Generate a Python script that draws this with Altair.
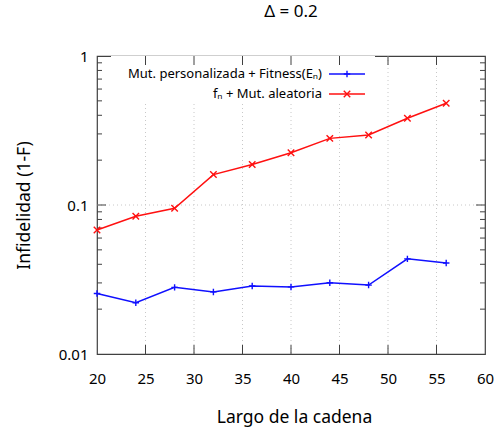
import altair as alt
import pandas as pd

# Chain length and infidelity (1-F) for the two strategies
largo = [20, 24, 28, 32, 36, 40, 44, 48, 52, 56]
infid_personalizada = [0.0255, 0.0221, 0.0280, 0.0261, 0.0286, 0.0282, 0.0301, 0.0290, 0.0435, 0.0408]
infid_aleatoria = [0.068, 0.084, 0.095, 0.160, 0.187, 0.224, 0.280, 0.295, 0.382, 0.482]

series_labels = ["Mut. personalizada + Fitness(Eₙ)", "fₙ + Mut. aleatoria"]
series_colors = ["#1010ff", "#ff1010"]

x_ticks = [20, 25, 30, 35, 40, 45, 50, 55, 60]
x_inner_ticks = [25, 30, 35, 40, 45, 50, 55]
y_major = [0.01, 0.1, 1]
y_minor = [0.02, 0.03, 0.04, 0.05, 0.06, 0.07, 0.08, 0.09,
           0.2, 0.3, 0.4, 0.5, 0.6, 0.7, 0.8, 0.9]

W, H = 388, 298
FONT = "Noto Sans"
FRAME = "#404040"

xs = alt.Scale(domain=[20, 60], nice=False, zero=False)
ys = alt.Scale(type="log", domain=[0.01, 1], nice=False)

# one axis definition per channel, shared by every layer so they merge
x_axis = alt.Axis(values=x_ticks, title="Largo de la cadena", grid=False,
                  ticks=False, domain=False, labelPadding=17, labelFlush=False,
                  labelFontSize=15, labelFont=FONT, labelColor="#000",
                  titleFont=FONT, titleFontSize=17.5, titleFontWeight="normal",
                  titleColor="#000", titleX=197, titleY=68,
                  titleBaseline="alphabetic")
y_axis = alt.Axis(values=y_major, format="~g", title="Infidelidad (1-F)",
                  grid=False, ticks=False, domain=False, labelPadding=9,
                  labelFlush=False,
                  labelFontSize=15, labelFont=FONT, labelColor="#000",
                  titleFont=FONT, titleFontSize=17.5, titleFontWeight="normal",
                  titleColor="#000", titleX=-73, titleY=149,
                  titleBaseline="middle", titleAlign="center")

def X(field):
    return alt.X(field, scale=xs, axis=x_axis)

def Y(field):
    return alt.Y(field, scale=ys, axis=y_axis)

# marker paths: plus for the first series, diagonal cross for the second
PLUS = "M-1,0L1,0M0,-1L0,1"
XMARK = "M-1,-1L1,1M-1,1L1,-1"
shapes = [PLUS, XMARK]

df = pd.DataFrame({
    "largo": largo * 2,
    "infid": infid_personalizada + infid_aleatoria,
    "serie": [series_labels[0]] * len(largo) + [series_labels[1]] * len(largo),
})

grid_x = alt.Chart(pd.DataFrame({"x": x_inner_ticks})).mark_rule(
    color="#c8c8c8", strokeDash=[1, 3], strokeWidth=1
).encode(x=X("x:Q"), y=alt.value(0), y2=alt.value(H))

grid_y = alt.Chart(pd.DataFrame({"y": [0.1]})).mark_rule(
    color="#c8c8c8", strokeDash=[1, 3], strokeWidth=1
).encode(y=Y("y:Q"), x=alt.value(0), x2=alt.value(W))

# opaque key box
key_box = alt.Chart(pd.DataFrame({"k": [0]})).mark_rect(color="white").encode(
    x=alt.value(14), x2=alt.value(278), y=alt.value(0), y2=alt.value(47)
)

def xtick(y0, y1):
    return alt.Chart(pd.DataFrame({"x": x_inner_ticks})).mark_rule(
        color=FRAME, strokeWidth=1
    ).encode(x=X("x:Q"), y=alt.value(y0), y2=alt.value(y1))

def ytick(vals, x0, x1):
    return alt.Chart(pd.DataFrame({"y": vals})).mark_rule(
        color=FRAME, strokeWidth=1
    ).encode(y=Y("y:Q"), x=alt.value(x0), x2=alt.value(x1))

ticks = [
    xtick(H - 9, H), xtick(0, 9),
    ytick([0.1], 0, 9), ytick([0.1], W - 9, W),
    ytick(y_minor, 0, 5), ytick(y_minor, W - 5, W),
]

color_scale = alt.Scale(domain=series_labels, range=series_colors)

lines = alt.Chart(df).mark_line(strokeWidth=1.5).encode(
    x=X("largo:Q"),
    y=Y("infid:Q"),
    color=alt.Color("serie:N", scale=color_scale, legend=None),
    detail="serie:N",
)

markers = []
for label, color, shape in zip(series_labels, series_colors, shapes):
    sub = df[df["serie"] == label]
    markers.append(
        alt.Chart(sub).mark_point(shape=shape, filled=False, color=color,
                                  strokeWidth=1.4, size=42, opacity=1).encode(
            x=X("largo:Q"),
            y=Y("infid:Q"),
        )
    )

# key entries: right-aligned label, sample line, marker
key_layers = []
key_rows = [18, 38]
for label, color, shape, ky in zip(series_labels, series_colors, shapes, key_rows):
    kd = pd.DataFrame({"label": [label]})
    key_layers.append(
        alt.Chart(kd).mark_text(align="right", baseline="middle", font=FONT,
                                fontSize=13, color="#000").encode(
            text="label:N", x=alt.value(225), y=alt.value(ky))
    )
    key_layers.append(
        alt.Chart(kd).mark_rule(color=color, strokeWidth=1.5).encode(
            x=alt.value(232), x2=alt.value(268), y=alt.value(ky))
    )
    key_layers.append(
        alt.Chart(kd).mark_point(shape=shape, filled=False, color=color,
                                 strokeWidth=1.4, size=42, opacity=1).encode(
            x=alt.value(250), y=alt.value(ky))
    )

chart = alt.layer(
    grid_x, grid_y, key_box, *ticks, lines, *markers, *key_layers
).properties(
    width=W, height=H,
    background="white",
    title=alt.TitleParams("Δ = 0.2", font=FONT, fontSize=17, fontWeight="normal",
                          color="#000", anchor="middle", offset=28),
    autosize=alt.AutoSizeParams(type="none"),
    padding={"left": 97, "top": 56, "right": 12, "bottom": 76},
).configure_view(
    stroke=FRAME, strokeWidth=1.2
)

chart.save("out.html", embed_options={"renderer": "svg", "actions": False})
